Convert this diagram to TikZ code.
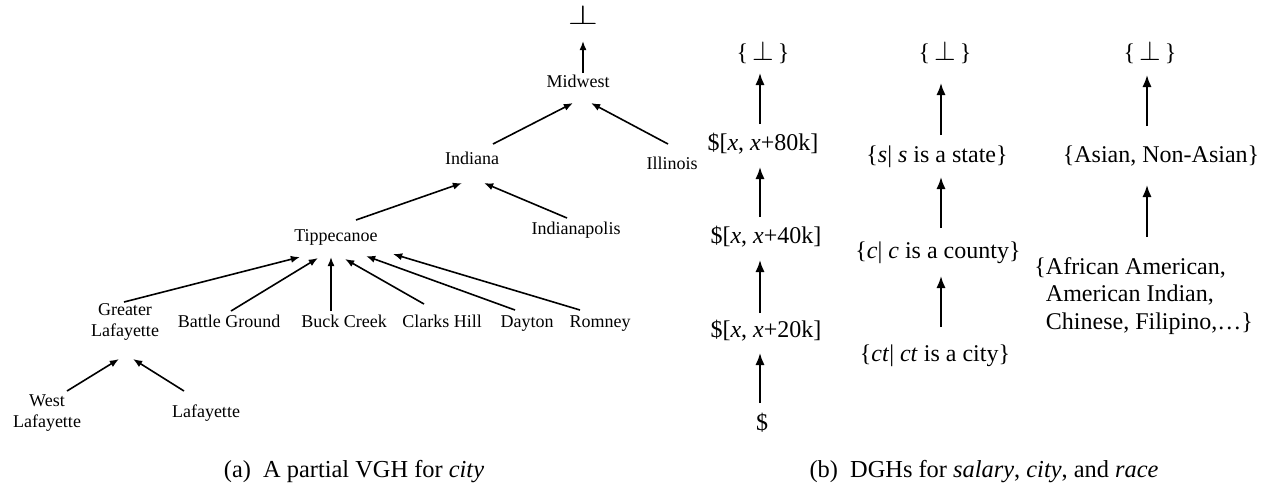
\documentclass[tikz,border=0pt]{standalone}
\usepackage{fontspec}
\usepackage{graphicx}
\setmainfont{Liberation Serif}
\usetikzlibrary{arrows.meta}
\newcommand{\botsym}{{\fontsize{9}{10}\selectfont\scalebox{1.5}{$\perp$}}}
\begin{document}
\begin{tikzpicture}[x=0.5pt,y=-0.5pt,
  lbl/.style={inner sep=0pt, font=\fontsize{9}{10.5}\selectfont, text height=6.2pt, text depth=1.8pt},
  lbltwo/.style={inner sep=0pt, font=\fontsize{9}{10.5}\selectfont, align=center},
  big/.style={inner sep=0pt, font=\fontsize{12}{13.8}\selectfont, text height=8.3pt, text depth=2.4pt},
  bigml/.style={inner sep=0pt, font=\fontsize{12}{13.8}\selectfont, align=left},
  captext/.style={inner sep=0pt, font=\fontsize{12.2}{14}\selectfont},
  arr/.style={line width=0.8pt, -{Latex[length=4.6pt,width=3.6pt]}},
  arrbig/.style={line width=0.9pt, -{Latex[length=6pt,width=4.6pt]}}]
\useasboundingbox (0,0) rectangle (1268,484);

% ---------- (a) VGH for city ----------
\node[lbl] (bot) at (583,20) {\scalebox{2.1}[1.5]{$\perp$}};
\node[lbl] (mid) at (578,83) {Midwest};
\node[lbl] (ind) at (472,160) {Indiana};
\node[lbl] (ill) at (672,165) {Illinois};
\node[lbl] (tip) at (336,237) {Tippecanoe};
\node[lbl] (inp) at (576,230) {Indianapolis};
\node[lbltwo] (gl) at (125,322) {Greater\\Lafayette};
\node[lbl] (bg) at (229,323) {Battle Ground};
\node[lbl] (bc) at (344,323) {Buck Creek};
\node[lbl] (ch) at (442,323) {Clarks Hill};
\node[lbl] (day) at (527,323) {Dayton};
\node[lbl] (rom) at (600,323) {Romney};
\node[lbltwo] (wl) at (47,413) {West\\Lafayette};
\node[lbl] (laf) at (206,413) {Lafayette};

\draw[arr] ([shift={(5,-10)}]mid.center) -- ([shift={(0,21)}]bot.center);
\draw[arr] ([shift={(21,-16)}]ind.center) -- ([shift={(-5,20)}]mid.center);
\draw[arr] ([shift={(-4,-21)}]ill.center) -- ([shift={(13,20)}]mid.center);
\draw[arr] ([shift={(20,-17)}]tip.center) -- ([shift={(-10,23)}]ind.center);
\draw[arr] ([shift={(-9,-12)}]inp.center) -- ([shift={(12,23)}]ind.center);
\draw[arr] ([shift={(-1,-20)}]gl.center) -- ([shift={(-36,20)}]tip.center);
\draw[arr] ([shift={(2,-12)}]bg.center) -- ([shift={(-18,21)}]tip.center);
\draw[arr] ([shift={(-13,-12)}]bc.center) -- ([shift={(-5,20)}]tip.center);
\draw[arr] ([shift={(-18,-19)}]ch.center) -- ([shift={(9,22)}]tip.center);
\draw[arr] ([shift={(-12,-13)}]day.center) -- ([shift={(30,19)}]tip.center);
\draw[arr] ([shift={(-20,-13)}]rom.center) -- ([shift={(57,17)}]tip.center);
\draw[arr] ([shift={(20,-22)}]wl.center) -- ([shift={(-6,37)}]gl.center);
\draw[arr] ([shift={(-22,-22)}]laf.center) -- ([shift={(8,37)}]gl.center);

\node[captext] (capa) at (354,472) {(a)\hspace{0.5em}A partial VGH for \textit{city}};

% ---------- (b) DGHs ----------
% salary
\node[big] (s0) at (763,55) {\{\,\botsym\,\}};
\node[big] (s1) at (763,145) {\$[\textit{x}, \textit{x}+80k]};
\node[big] (s2) at (766,238) {\$[\textit{x}, \textit{x}+40k]};
\node[big] (s3) at (766,332) {\$[\textit{x}, \textit{x}+20k]};
\node[big] (s4) at (762,425) {\$};
\draw[arrbig] ([shift={(-3,-21)}]s1.center) -- ([shift={(-3,18)}]s0.center);
\draw[arrbig] ([shift={(-6,-21)}]s2.center) -- ([shift={(-3,22)}]s1.center);
\draw[arrbig] ([shift={(-6,-19)}]s3.center) -- ([shift={(-6,22)}]s2.center);
\draw[arrbig] ([shift={(-2,-22)}]s4.center) -- ([shift={(-6,21)}]s3.center);

% city
\node[big] (c0) at (945,55) {\{\,\botsym\,\}};
\node[big] (c1) at (937,157) {\{\textit{s}|\ \textit{s} is a state\}};
\node[big] (c2) at (938,253) {\{\textit{c}|\ \textit{c} is a county\}};
\node[big] (c3) at (935,356) {\{\textit{ct}|\ \textit{ct} is a city\}};
\draw[arrbig] ([shift={(4,-22)}]c1.center) -- ([shift={(-4,28)}]c0.center);
\draw[arrbig] ([shift={(3,-25)}]c2.center) -- ([shift={(4,20)}]c1.center);
\draw[arrbig] ([shift={(6,-29)}]c3.center) -- ([shift={(3,23)}]c2.center);

% race
\node[big] (r0) at (1150,55) {\{\,\botsym\,\}};
\node[big] (r1) at (1161,157) {\{Asian, Non-Asian\}};
\node[bigml, anchor=north west] (r2) at (1034,257) {\{African American,\\\phantom{\{}American Indian,\\\phantom{\{}Chinese, Filipino,…\}};
\coordinate (rx) at ([shift={(-14,28)}]r1.center);
\draw[arrbig] ([shift={(-14,-31)}]r1.center) -- ([shift={(-3,20)}]r0.center);
\draw[arrbig] ([yshift=10pt]rx |- r2.north) -- (rx);

\node[captext] (capb) at (984,472) {(b)\hspace{0.5em}DGHs for \textit{salary}, \textit{city}, and \textit{race}};
\end{tikzpicture}
\end{document}
